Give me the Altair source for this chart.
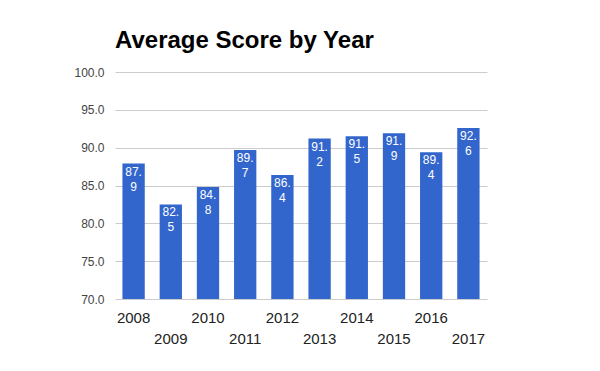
import altair as alt
import pandas as pd

years = ["2008", "2009", "2010", "2011", "2012", "2013", "2014", "2015", "2016", "2017"]
scores = [87.9, 82.5, 84.8, 89.7, 86.4, 91.2, 91.5, 91.9, 89.4, 92.6]
y_ticks = [70, 75, 80, 85, 90, 95, 100]

labels = []
for v in scores:
    s = f"{v:.1f}"
    a, b = s.split(".")
    labels.append(a + ".\n" + b)

df = pd.DataFrame({"year": years, "score": scores, "label": labels})

FONT = "Liberation Sans"

x_enc = alt.X(
    "year:O",
    sort=years,
    scale=alt.Scale(paddingInner=0.4, paddingOuter=0.2),
    axis=alt.Axis(
        title=None,
        labelAngle=0,
        domain=False,
        ticks=False,
        labelFontSize=15,
        labelColor="#222222",
        labelFont=FONT,
        labelPadding=11,
        labelLineHeight=21,
        labelOverlap=False,
        labelBaseline="top",
        labelExpr="toNumber(datum.value) % 2 == 1 ? ['', datum.label] : datum.label",
    ),
)

y_enc = alt.Y(
    "score:Q",
    scale=alt.Scale(domain=[70, 100], zero=False, nice=False),
    axis=alt.Axis(
        title=None,
        values=y_ticks,
        format=".1f",
        domain=False,
        ticks=False,
        labelFontSize=12,
        labelColor="#444444",
        labelFont=FONT,
        labelPadding=11,
        labelOverlap=False,
        gridColor="#cccccc",
        gridWidth=1,
    ),
)

bars = alt.Chart(df).mark_bar(color="#3366cc").encode(
    x=x_enc,
    y=y_enc,
    y2=alt.datum(70),
)

text = alt.Chart(df).mark_text(
    color="#ffffff",
    fontSize=12,
    font=FONT,
    baseline="top",
    align="center",
    dy=3,
    lineBreak="\n",
    lineHeight=15,
).encode(
    x=x_enc,
    y=y_enc,
    text="label:N",
)

chart = (
    alt.layer(bars, text)
    .properties(
        width=372,
        height=227,
        title=alt.TitleParams(
            "Average Score by Year",
            anchor="start",
            frame="group",
            fontSize=24,
            fontWeight="bold",
            font=FONT,
            color="#000000",
            offset=13,
        ),
        autosize=alt.AutoSizeParams(type="none"),
        padding={"left": 107, "top": 64, "right": 105, "bottom": 64},
    )
    .configure_view(stroke=None)
)

chart.save("out.html", embed_options={"renderer": "svg", "actions": False})
